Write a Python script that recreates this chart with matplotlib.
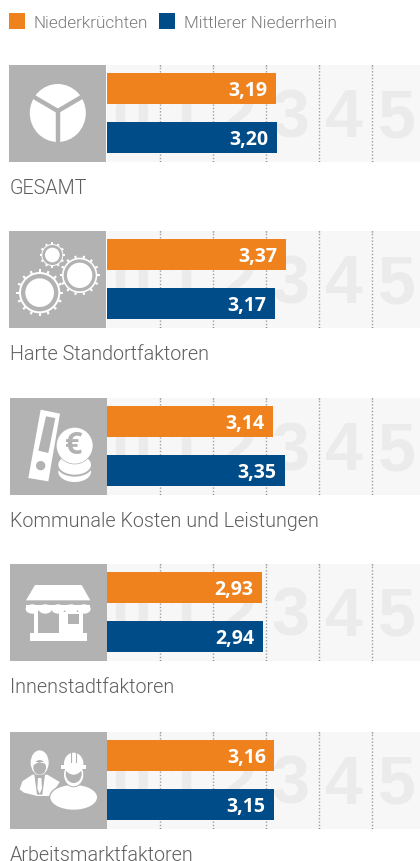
import matplotlib
matplotlib.use("Agg")
import matplotlib.pyplot as plt
import numpy as np
from matplotlib.patches import Rectangle, Circle, Ellipse, Polygon

categories = ["GESAMT", "Harte Standortfaktoren", "Kommunale Kosten und Leistungen",
              "Innenstadtfaktoren", "Arbeitsmarktfaktoren"]
series_names = ["Niederkrüchten", "Mittlerer Niederrhein"]
niederkruechten = [3.19, 3.37, 3.14, 2.93, 3.16]
niederrhein = [3.20, 3.17, 3.35, 2.94, 3.15]
scale_digits = [0, 1, 2, 3, 4, 5]
value_labels_a = ["3,19", "3,37", "3,14", "2,93", "3,16"]
value_labels_b = ["3,20", "3,17", "3,35", "2,94", "3,15"]

ORANGE = "#f0821e"
BLUE = "#004c88"
GREY = "#b2b2b2"
W, H = 420, 861
FONT = "Roboto"
VALFONT = "Open Sans"
panel_tops = [65, 231, 398, 564, 732]
icon_lefts = [9, 9, 10, 10, 10]
PX = 53.0

fig = plt.figure(figsize=(W / 100, H / 100), dpi=100, facecolor="white")

ov = fig.add_axes([0, 0, 1, 1], zorder=5)
ov.set_xlim(0, W)
ov.set_ylim(H, 0)
ov.axis("off")
ov.patch.set_alpha(0)

for i, cat in enumerate(categories):
    top = panel_tops[i]
    ax = fig.add_axes([107 / W, 1 - (top + 97) / H, 313 / W, 97 / H], zorder=1)
    ax.set_facecolor("#f7f7f7")
    ax.set_xlim(0, 313 / PX)
    ax.set_ylim(97, 0)
    for s in ax.spines.values():
        s.set_visible(False)
    ax.set_xticks([])
    ax.set_yticks([])
    for d in scale_digits:
        ax.text(d + 0.46, 47, str(d), ha="center", va="center_baseline",
                fontsize=49, fontweight="bold", family="Liberation Sans", color="#ebebeb", zorder=1)
    for d in scale_digits[1:]:
        ax.axvline(d, color="#a0a0a0", lw=1, ls=(0, (1, 1.4)), zorder=2)
        ax.plot([d, d], [0, 1.2], color="#707070", lw=1, solid_capstyle="butt", zorder=2)
        ax.plot([d, d], [95.8, 97], color="#707070", lw=1, solid_capstyle="butt", zorder=2)
    ax.barh(23.5, niederkruechten[i], height=31, color=ORANGE, zorder=3)
    ax.barh(72.5, niederrhein[i], height=31, color=BLUE, zorder=3)
    ax.annotate(value_labels_a[i], (niederkruechten[i], 23.5), xytext=(-6.2, 0),
                textcoords="offset points", ha="right", va="center_baseline", color="white",
                fontsize=14, fontweight="bold", family=VALFONT, zorder=4)
    ax.annotate(value_labels_b[i], (niederrhein[i], 72.5), xytext=(-6.2, 0),
                textcoords="offset points", ha="right", va="center_baseline", color="white",
                fontsize=14, fontweight="bold", family=VALFONT, zorder=4)
    ov.add_patch(Rectangle((icon_lefts[i], top), 97, 97, fc=GREY, ec="none"))
    ov.text(9.5, top + 129, cat, fontsize=14.2, color="#5f5f5f", family=FONT,
            fontweight=300, ha="left", va="baseline")

for x, c, name, tx in [(9, ORANGE, series_names[0], 33.5), (159, BLUE, series_names[1], 184)]:
    ov.add_patch(Rectangle((x, 13), 16, 16, fc=c, ec="none"))
    ov.text(tx, 27.5, name, fontsize=12.3, color="#7a7a7a", family=FONT,
            fontweight=300, ha="left", va="baseline")


def P(ox, oy):
    """3x zoom coordinates of an icon to figure pixels."""
    def f(a, b):
        return (ox + a / 3, oy + b / 3)
    return f


def poly(f, pts, c="white", z=2, **kw):
    ov.add_patch(Polygon([f(a, b) for a, b in pts], fc=c, ec="none", zorder=z, **kw))


def ell(f, a, b, rx, ry, c="white", z=2, ec="none", lw=0):
    ov.add_patch(Ellipse(f(a, b), 2 * rx / 3, 2 * ry / 3, fc=c, ec=ec, lw=lw, zorder=z))


# icon 1: pie
ov.add_patch(Ellipse((57.8, 113), 56, 58, fc="white", ec="none", zorder=2))
for dx, dy in [(0, 32), (-29, -17), (29, -17)]:
    ov.plot([57.8, 57.8 + dx], [111, 111 + dy], color=GREY, lw=3.2, solid_capstyle="butt", zorder=3)


def gear(f, a, b, r_in, r_ring, r_body, r_tooth, n):
    ell(f, a, b, r_body, r_body)
    ang = 2 * np.pi * np.arange(n) / n
    cx, cy = f(a, b)
    for t in ang:
        ct, st = np.cos(t), np.sin(t)
        w, r0, r1 = 1.1, (r_body - 1) / 3, r_tooth / 3
        pts = [(cx + r * ct + s * w * -st, cy + r * st + s * w * ct)
               for r, s in [(r0, -1), (r1, -1), (r1, 1), (r0, 1)]]
        ov.add_patch(Polygon(pts, fc="white", ec="none", zorder=2))
    ell(f, a, b, r_ring, r_ring, c=GREY, z=3)
    ell(f, a, b, r_in, r_in, z=4)


# icon 2: gears
g = P(9, 231)
gear(g, 92, 185, 43, 56, 62, 70, 16)
gear(g, 212, 133, 38, 48, 53, 60, 14)
gear(g, 130, 72, 22, 30, 33, 38, 12)

# icon 3: binder and coins
c3 = P(10, 398)
poly(c3, [(92, 35), (150, 47), (115, 250), (55, 240)])
poly(c3, [(108, 55), (136, 60), (115, 165), (85, 158)], c=GREY, z=3)
ell(c3, 92, 203, 14, 14, c=GREY, z=3)
ell(c3, 194, 222, 52, 33, z=4, ec=GREY, lw=1.4)
ell(c3, 194, 200, 52, 33, z=5, ec=GREY, lw=1.4)
ell(c3, 194, 143, 56, 56, c=GREY, z=6)
ell(c3, 194, 143, 54, 54, z=7)
ov.text(*c3(192, 143), "€", fontsize=22, fontweight="bold", family=VALFONT, color=GREY,
        ha="center", va="center", zorder=8)

# icon 4: shop
s = P(0, 555)
poly(s, [(105, 90), (245, 90), (271, 136), (78, 136)])
poly(s, [(78, 150), (271, 150), (271, 165), (78, 165)])
for xc in np.linspace(97, 252, 5):
    ell(s, xc, 162, 20, 14)
poly(s, [(103, 170), (115, 170), (115, 246), (103, 246)])
poly(s, [(177, 170), (250, 170), (250, 246), (177, 246)])
poly(s, [(203, 178), (237, 178), (237, 208), (203, 208)], c=GREY, z=3)
poly(s, [(90, 235), (261, 235), (261, 258), (90, 258)])
poly(s, [(115, 178), (177, 178), (177, 234), (115, 234)], c=GREY, z=3)

# icon 5: people
m = P(9, 732)
poly(m, [(32, 172), (40, 148), (70, 128), (115, 128), (152, 150), (125, 192), (85, 192), (45, 182)])
poly(m, [(76, 128), (108, 128), (100, 188), (84, 188)], c=GREY, z=3)
poly(m, [(87, 138), (97, 138), (99, 170), (92, 185), (85, 170)], z=4)
ell(m, 92, 92, 27, 37, z=4)
ell(m, 92, 106, 19, 22, c=GREY, z=5)
poly(m, [(70, 90), (112, 90), (112, 96), (90, 90), (72, 100)], z=6)
ell(m, 194, 196, 74, 42, c=GREY, z=7)
ell(m, 194, 196, 70, 37, z=8)
ell(m, 194, 128, 32, 38, c=GREY, z=8)
ell(m, 194, 128, 29, 35, z=9)
ell(m, 194, 126, 24, 27, c=GREY, z=10)
ell(m, 194, 95, 29, 33, z=11)
poly(m, [(155, 100), (232, 100), (232, 112), (155, 112)], z=11)
ov.plot(*zip(m(186, 64), m(186, 90)), color=GREY, lw=0.8, zorder=12)
ov.plot(*zip(m(202, 64), m(202, 90)), color=GREY, lw=0.8, zorder=12)

fig.savefig("out.png", dpi=100, facecolor="white")
